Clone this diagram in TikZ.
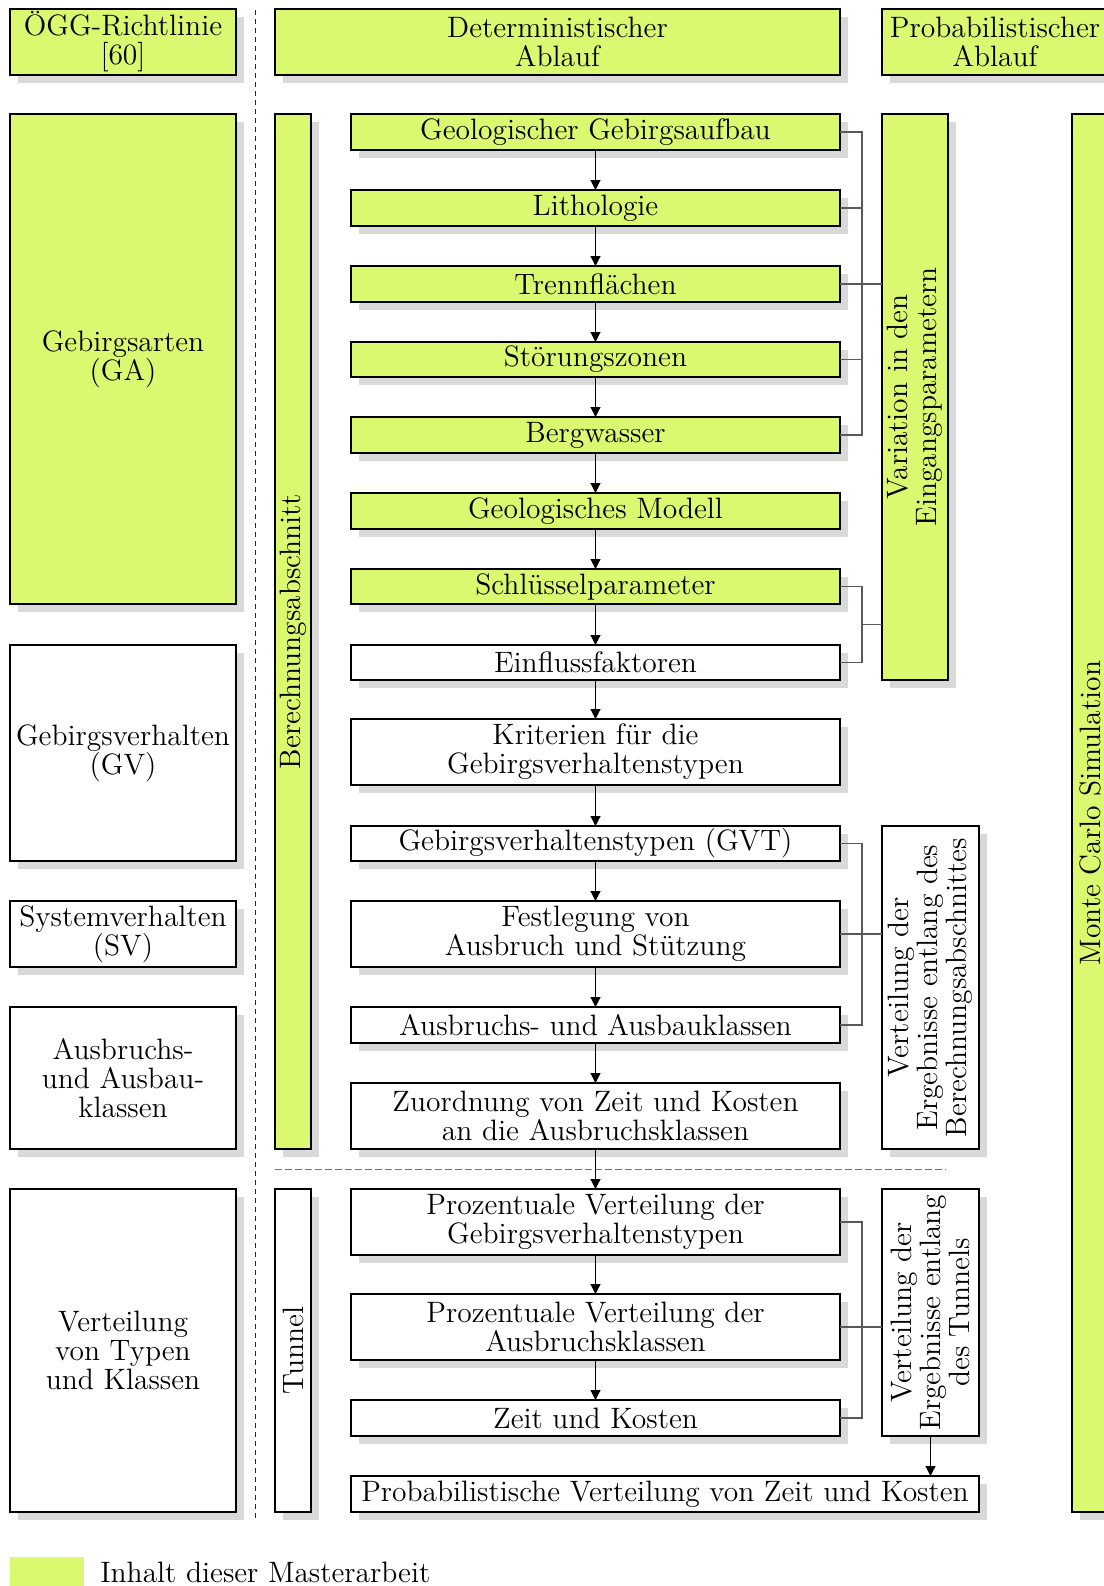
\documentclass[tikz,border=0pt]{standalone}
\usepackage{fontspec}
\usetikzlibrary{shadows,arrows.meta}
\definecolor{limegr}{RGB}{218,248,112}
\newcommand\bx[7]{\node[#2, minimum width={(#5-#3)*0.4pt}, minimum height={(#6-#4)*0.4pt}] (#1) at ({(#3+#5)/2},{(#4+#6)/2}) {#7};}
\begin{document}
\begin{tikzpicture}[x=0.4pt,y=-0.4pt,
  every node/.style={font=\fontsize{11.8}{11.6}\selectfont, align=center, inner sep=0.5pt, outer sep=0pt},
  box/.style={draw=black, line width=0.85pt, rectangle, drop shadow={shadow xshift=3pt,shadow yshift=-3pt,fill=black!15,opacity=1}},
  gbox/.style={box, fill=limegr},
  wbox/.style={box, fill=white},
  arr/.style={-{Triangle[length=4pt,width=4pt]}, line width=0.45pt},
  brk/.style={draw=black!65, line width=0.45pt},
  vtext/.style={rotate=90}
]
\clip (0,0) rectangle (1104,1586);

% separators
\coordinate (dv1) at (255,10);
\coordinate (dv2) at (255,1519);
\draw[dash pattern=on 2pt off 1.6pt, line width=0.4pt, black!85] (dv1) -- (dv2);
\coordinate (dh1) at (275,1169);
\coordinate (dh2) at (946,1169);
\draw[dash pattern=on 2.6pt off 1.4pt, line width=0.4pt, black!55] (dh1) -- (dh2);

% headers
\bx{hOGG}{gbox}{10}{9}{236}{75}{ÖGG-Richtlinie\\{[60]}}
\bx{hDet}{gbox}{275}{9}{840}{75}{Deterministischer\\Ablauf}
\bx{hProb}{gbox}{882}{9}{1108}{75}{Probabilistischer\\Ablauf}

% left column
\bx{GA}{gbox}{10}{114}{236}{604}{Gebirgsarten\\(GA)}
\bx{GV}{wbox}{10}{645}{236}{861}{Gebirgsverhalten\\(GV)}
\bx{SV}{wbox}{10}{901}{236}{967}{Systemverhalten\\(SV)}
\bx{AK}{wbox}{10}{1007}{236}{1149}{Ausbruchs-\\und Ausbau-\\klassen}
\bx{VT}{wbox}{10}{1189}{236}{1512}{Verteilung\\von Typen\\und Klassen}

% narrow boxes
\bx{BA}{gbox}{275}{114}{311}{1149}{}
\node[vtext] (BAt) at (BA.center) {Berechnungsabschnitt};
\bx{TU}{wbox}{275}{1189}{311}{1512}{}
\node[vtext] (TUt) at (TU.center) {Tunnel};

% main column
\bx{G1}{gbox}{351}{114}{840}{150}{Geologischer Gebirgsaufbau}
\bx{G2}{gbox}{351}{190}{840}{226}{Lithologie}
\bx{G3}{gbox}{351}{266}{840}{302}{Trennflächen}
\bx{G4}{gbox}{351}{342}{840}{377}{Störungszonen}
\bx{G5}{gbox}{351}{417}{840}{453}{Bergwasser}
\bx{G6}{gbox}{351}{493}{840}{529}{Geologisches Modell}
\bx{G7}{gbox}{351}{569}{840}{604}{Schlüsselparameter}
\bx{W1}{wbox}{351}{645}{840}{680}{Einflussfaktoren}
\bx{W2}{wbox}{351}{719}{840}{785}{Kriterien für die\\Gebirgsverhaltenstypen}
\bx{W3}{wbox}{351}{826}{840}{861}{Gebirgsverhaltenstypen (GVT)}
\bx{W4}{wbox}{351}{901}{840}{967}{Festlegung von\\Ausbruch und Stützung}
\bx{W5}{wbox}{351}{1007}{840}{1043}{Ausbruchs- und Ausbauklassen}
\bx{W6}{wbox}{351}{1083}{840}{1149}{Zuordnung von Zeit und Kosten\\an die Ausbruchsklassen}
\bx{T1}{wbox}{351}{1189}{840}{1255}{Prozentuale Verteilung der\\Gebirgsverhaltenstypen}
\bx{T2}{wbox}{351}{1294}{840}{1360}{Prozentuale Verteilung der\\Ausbruchsklassen}
\bx{T3}{wbox}{351}{1400}{840}{1436}{Zeit und Kosten}
\bx{P}{wbox}{351}{1476}{979}{1512}{Probabilistische Verteilung von Zeit und Kosten}

% right column
\bx{VA}{gbox}{882}{114}{948}{680}{}
\node[vtext] (VAt) at (VA.center) {Variation in den\\Eingangsparametern};
\bx{VB}{wbox}{882}{826}{979}{1149}{}
\node[vtext] (VBt) at (VB.center) {Verteilung der\\Ergebnisse entlang des\\Berechnungsabschnittes};
\bx{VTu}{wbox}{882}{1189}{979}{1436}{}
\node[vtext] (VTut) at (VTu.center) {Verteilung der\\Ergebnisse entlang\\des Tunnels};
\bx{MC}{gbox}{1072}{114}{1108}{1512}{}
\node[vtext] (MCt) at (MC.center) {Monte Carlo Simulation};

% arrows
\foreach \a/\b in {G1/G2,G2/G3,G3/G4,G4/G5,G5/G6,G6/G7,G7/W1,W1/W2,W2/W3,W3/W4,W4/W5,W5/W6,W6/T1,T1/T2,T2/T3}
  \draw[arr] (\a.south) -- (\b.north);
\draw[arr] (VTu.south) -- (VTu.south |- P.north);

% brackets
\coordinate (brx) at (862,0);
\draw[brk] (G1.east) -- (G1.east -| brx) |- (G5.east);
\foreach \n in {G2,G4} \draw[brk] (\n.east) -- (\n.east -| brx);
\draw[brk] (G3.east) -- (G3.east -| VA.west);
\draw[brk] (G7.east) -- (G7.east -| brx) |- (W1.east);
\path (G7.east) -- (W1.east) coordinate[pos=0.5] (m2);
\draw[brk] (m2 -| brx) -- (m2 -| VA.west);
\draw[brk] (W3.east) -- (W3.east -| brx) |- (W5.east);
\draw[brk] (W4.east) -- (W4.east -| VB.west);
\draw[brk] (T1.east) -- (T1.east -| brx) |- (T3.east);
\draw[brk] (T2.east) -- (T2.east -| VTu.west);

% legend
\node[fill=limegr, minimum width=74*0.4pt, minimum height=29*0.4pt] (leg) at (47,1571.5) {};
\node[anchor=west] (legt) at (99,1572) {Inhalt dieser Masterarbeit};
\end{tikzpicture}
\end{document}
